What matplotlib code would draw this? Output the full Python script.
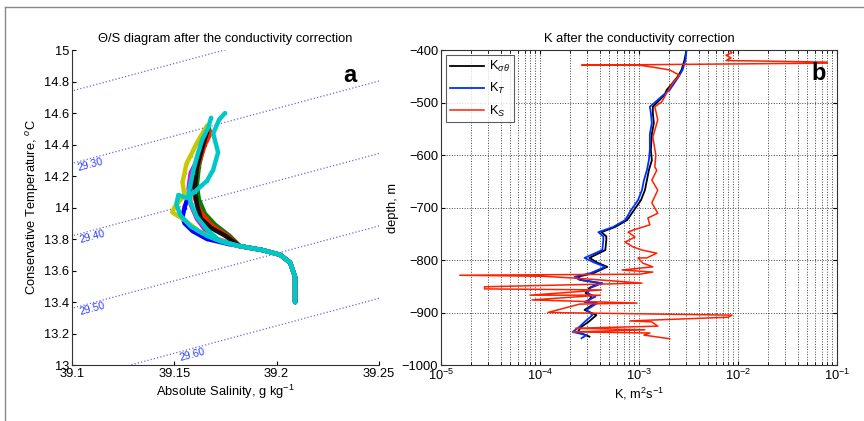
import numpy as np
import matplotlib
matplotlib.use('Agg')
import matplotlib.pyplot as plt
from matplotlib.lines import Line2D

plt.rcParams['font.family'] = ['Liberation Sans', 'DejaVu Sans']
plt.rcParams['font.size'] = 9.3
plt.rcParams['mathtext.fontset'] = 'custom'
plt.rcParams['mathtext.rm'] = 'Liberation Sans'
plt.rcParams['mathtext.it'] = 'Liberation Sans:italic'

# ---- panel a: Theta/S profiles (shared deep tail + per-cast upper part) ----
tail_S = [39.182, 39.193, 39.2017, 39.2066, 39.209, 39.209, 39.209]
tail_T = [13.755, 13.73, 13.70, 13.65, 13.56, 13.47, 13.40]

casts = {
    'b': ([39.165, 39.162, 39.159, 39.157, 39.155, 39.154, 39.155, 39.159, 39.166, 39.176, 39.182],
          [14.45, 14.30, 14.18, 14.08, 14.00, 13.94, 13.90, 13.85, 13.80, 13.77, 13.755]),
    'g': ([39.167, 39.164, 39.162, 39.161, 39.162, 39.165, 39.170, 39.177, 39.182],
          [14.50, 14.38, 14.26, 14.14, 14.05, 13.96, 13.89, 13.82, 13.755]),
    'r': ([39.168, 39.165, 39.162, 39.160, 39.160, 39.163, 39.168, 39.176, 39.182],
          [14.48, 14.40, 14.28, 14.18, 14.06, 13.97, 13.89, 13.82, 13.755]),
    'm': ([39.165, 39.162, 39.158, 39.157, 39.158, 39.161, 39.165, 39.171, 39.182],
          [14.45, 14.32, 14.22, 14.12, 14.02, 13.93, 13.86, 13.80, 13.755]),
    'y': ([39.166, 39.161, 39.158, 39.156, 39.155, 39.154, 39.155, 39.150, 39.149, 39.155,
           39.162, 39.170, 39.182],
          [14.52, 14.41, 14.33, 14.28, 14.22, 14.16, 14.08, 14.00, 13.97, 13.92,
           13.85, 13.80, 13.755]),
    'k': ([39.166, 39.163, 39.161, 39.160, 39.161, 39.163, 39.168, 39.175, 39.182],
          [14.48, 14.35, 14.25, 14.12, 14.02, 13.93, 13.87, 13.82, 13.755]),
    'c2': ([39.1748, 39.172, 39.169, 39.1714, 39.169, 39.166, 39.160, 39.156, 39.152,
            39.151, 39.153, 39.158, 39.166, 39.174, 39.182],
           [14.60, 14.56, 14.47, 14.35, 14.24, 14.17, 14.10, 14.06, 14.08,
            14.02, 13.95, 13.88, 13.82, 13.78, 13.755]),
    'c': ([39.168, 39.1666, 39.1636, 39.161, 39.159, 39.157, 39.158, 39.161, 39.166, 39.172, 39.182],
          [14.57, 14.51, 14.43, 14.32, 14.22, 14.09, 14.03, 13.94, 13.86, 13.79, 13.755]),
}
cast_colors = {'b': '#0000ff', 'g': '#008000', 'r': '#ff2000', 'm': '#e000e0',
               'y': '#c8c800', 'k': '#101010', 'c2': '#00c8c8', 'c': '#00c8c8'}

# isopycnals (linear fit of sigma)
sig_levels = [29.2, 29.3, 29.4, 29.5, 29.6]
sig_ref, T_ref, S_ref = 29.30, 14.28, 39.1
dsig_dT, dsig_dS = -0.2174, 0.758
label_levels = [29.3, 29.4, 29.5, 29.6]
label_S = [39.109, 39.110, 39.110, 39.1587]

# ---- panel b: K profiles (log10 K vs depth) ----
kT_depth = [-400, -419, -438, -451, -465, -476, -485, -495, -508, -520, -539, -560, -590, -610,
            -629, -648, -667, -686, -705, -724, -737, -747, -755, -762, -781, -796, -805, -813,
            -825, -832, -838, -844, -853, -863, -870, -880, -882, -895, -905, -918, -927, -937,
            -943, -949]
kT_log = [-2.52, -2.53, -2.56, -2.60, -2.65, -2.69, -2.75, -2.81, -2.89, -2.88, -2.87, -2.89,
          -2.89, -2.90, -2.92, -2.95, -2.97, -3.01, -3.08, -3.14, -3.26, -3.41, -3.36, -3.36,
          -3.37, -3.55, -3.45, -3.34, -3.49, -3.65, -3.60, -3.37, -3.49, -3.52, -3.44, -3.55,
          -3.42, -3.53, -3.47, -3.55, -3.60, -3.67, -3.53, -3.58]
ksig_depth = [-400, -419, -438, -451, -465, -476, -485, -495, -508, -520, -539, -560, -590, -610,
              -629, -648, -667, -686, -705, -724, -737, -747, -755, -762, -781, -796, -805, -813,
              -825, -832, -838, -844, -853, -863, -870, -880, -882, -895, -905, -918, -927, -937,
              -946]
ksig_log = [-2.52, -2.54, -2.57, -2.61, -2.67, -2.72, -2.74, -2.79, -2.86, -2.86, -2.85, -2.87,
            -2.88, -2.87, -2.90, -2.92, -2.94, -2.98, -3.05, -3.12, -3.24, -3.38, -3.33, -3.33,
            -3.34, -3.50, -3.42, -3.32, -3.46, -3.62, -3.58, -3.40, -3.50, -3.54, -3.48, -3.52,
            -3.44, -3.55, -3.43, -3.51, -3.58, -3.62, -3.50]
kS_depth = [-400, -405, -410, -415, -420, -423, -425, -429, -429, -433, -438, -448, -463, -482,
            -499, -508, -533, -566, -600, -623, -629, -648, -667, -691, -711, -720, -733, -743,
            -747, -756, -766, -775, -781, -787, -796, -796, -806, -813, -819, -823, -827, -829,
            -831, -835, -844, -846, -849, -851, -855, -857, -867, -867, -876, -882, -884, -900,
            -905, -909, -916, -918, -926, -930, -933, -937, -939, -943, -950]
kS_log = [-2.09, -2.06, -2.12, -2.07, -2.12, -1.10, -1.10, -3.58, -2.99, -2.85, -2.69, -2.59,
          -2.66, -2.72, -2.77, -2.84, -2.81, -2.86, -2.83, -2.84, -2.82, -2.87, -2.81, -2.87,
          -2.81, -2.91, -2.89, -3.06, -3.11, -3.04, -3.14, -3.06, -2.97, -2.82, -2.92, -3.01,
          -2.96, -2.86, -3.17, -2.86, -2.99, -4.81, -3.97, -3.60, -2.97, -3.40, -4.10, -4.56,
          -4.56, -3.38, -4.10, -3.39, -4.08, -3.02, -3.60, -3.92, -2.06, -2.10, -3.09, -2.87,
          -2.81, -3.64, -2.94, -3.67, -2.89, -2.95, -2.69]

fig = plt.figure(figsize=(8.64, 4.21), dpi=100)

# panel a
ax1 = fig.add_axes([0.0833, 0.1330, 0.3553, 0.7482])
Sg, Tg = np.meshgrid(np.linspace(39.1, 39.25, 200), np.linspace(12.5, 15.5, 200))
sig = sig_ref + dsig_dT * (Tg - T_ref) + dsig_dS * (Sg - S_ref)
ax1.contour(Sg, Tg, sig, levels=sig_levels, colors='#6a6ae6', linestyles=':', linewidths=0.9)
for lev, s_lab in zip(label_levels, label_S):
    T_line = T_ref + (lev - sig_ref) / dsig_dT - (s_lab - S_ref) * dsig_dS / dsig_dT
    ax1.text(s_lab, T_line - 0.04, '%.2f' % lev, color='#2a3cff', fontsize=7.5,
             rotation=15, ha='center', va='center')
for key, (S, T) in casts.items():
    ax1.plot(S + tail_S, T + tail_T, '-', color=cast_colors[key], lw=3.2,
             marker='.', ms=3, solid_capstyle='round')
ax1.set_xlim(39.1, 39.25)
ax1.set_ylim(13, 15)
ax1.set_xticks([39.1, 39.15, 39.2, 39.25])
ax1.set_xticklabels(['39.1', '39.15', '39.2', '39.25'])
ax1.set_yticks(np.arange(13, 15.01, 0.2))
ax1.set_yticklabels(['13', '13.2', '13.4', '13.6', '13.8', '14', '14.2', '14.4', '14.6', '14.8', '15'])
ax1.spines['top'].set_visible(False)
ax1.spines['right'].set_visible(False)
for sp in ['left', 'bottom']:
    ax1.spines[sp].set_color('#333333')
    ax1.spines[sp].set_linewidth(0.8)
ax1.tick_params(direction='in', length=3, labelsize=9.3, pad=2)
ax1.set_xlabel('Absolute Salinity, g kg$^{-1}$', labelpad=2)
ax1.set_ylabel('Conservative Temperature, $^o$C', labelpad=2)
ax1.set_title('\u0398/S diagram after the conductivity correction', fontsize=9.3, pad=6)
ax1.text(0.905, 0.92, 'a', transform=ax1.transAxes, fontsize=17, fontweight='bold',
         ha='center', va='center')

# panel b
ax2 = fig.add_axes([0.5104, 0.1330, 0.4583, 0.7482])
ax2.set_xscale('log')
ax2.plot(10 ** np.array(ksig_log), ksig_depth, color='k', lw=1.3, label=r'K$_{\sigma\theta}$')
ax2.plot(10 ** np.array(kT_log), kT_depth, color='#0030ff', lw=1.3, label=r'K$_T$')
ax2.plot(10 ** np.array(kS_log), kS_depth, color='#ff2000', lw=1.1, label=r'K$_S$')
ax2.set_xlim(1e-5, 1e-1)
ax2.set_ylim(-1000, -400)
ax2.set_yticks(np.arange(-1000, -399, 100))
ax2.grid(True, which='major', ls=':', color='#444444', lw=0.7)
ax2.grid(True, which='minor', axis='x', ls=':', color='#444444', lw=0.7)
ax2.tick_params(which='both', direction='in', top=True, right=True, labelsize=9.3, pad=2)
ax2.tick_params(which='major', length=3)
ax2.tick_params(which='minor', length=2)
for sp in ax2.spines.values():
    sp.set_color('#333333')
    sp.set_linewidth(0.8)
ax2.set_xlabel('K, m$^2$s$^{-1}$', labelpad=2)
ax2.set_ylabel('depth, m', labelpad=2)
ax2.set_title('K after the conductivity correction', fontsize=9.3, pad=6)
leg = ax2.legend(loc='upper left', fontsize=9.3, handlelength=2.6, borderpad=0.3,
                 labelspacing=0.55, handletextpad=0.4, fancybox=False, edgecolor='#333333',
                 borderaxespad=0.4)
leg.get_frame().set_linewidth(0.8)
ax2.text(0.953, 0.925, 'b', transform=ax2.transAxes, fontsize=17, fontweight='bold',
         ha='center', va='center')

# outer frame
fig.add_artist(Line2D([5 / 864, 1.0], [1 - 7 / 421, 1 - 7 / 421], color='#888888', lw=1))
fig.add_artist(Line2D([5 / 864, 5 / 864], [0, 1 - 7 / 421], color='#888888', lw=1))

fig.savefig('out.png', dpi=100)
